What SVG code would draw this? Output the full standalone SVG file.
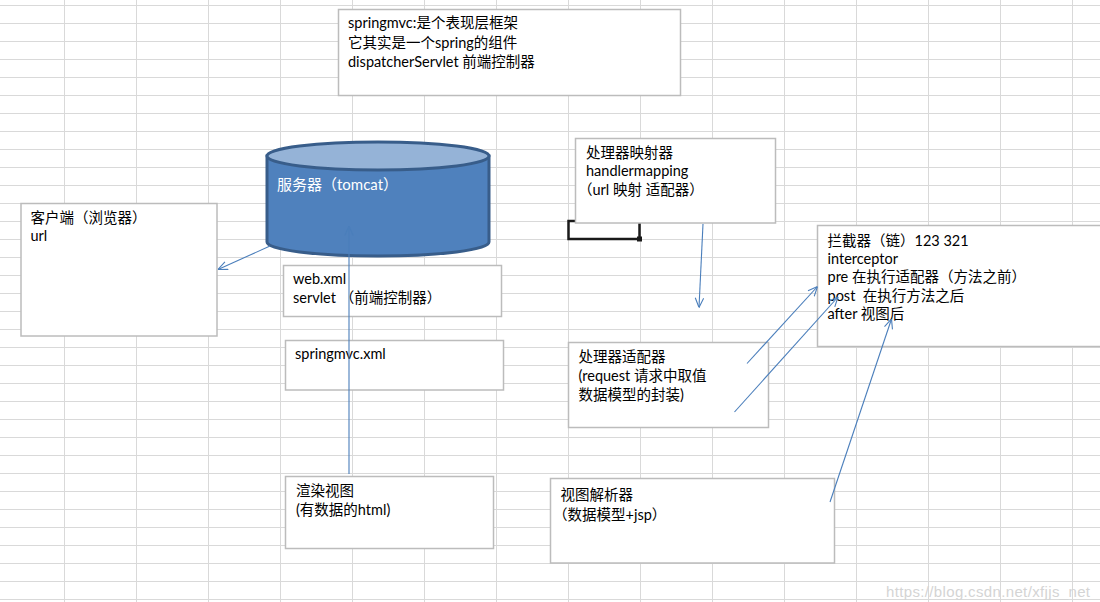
<svg xmlns="http://www.w3.org/2000/svg" width="1100" height="602" viewBox="0 0 1100 602">
<style>
.box{fill:#fff;stroke:#bcbcbc;stroke-width:1.5}
.t{font-family:Lato,"Noto Sans CJK SC",sans-serif;font-size:14.5px;fill:#000;white-space:pre}
.conn{stroke:#4a7ebb;stroke-width:1.1;fill:none}
</style>
<defs>
<pattern id="grid" patternUnits="userSpaceOnUse" x="64" y="5" width="72" height="18">
<path d="M0,0.5H72M0.5,0V18" stroke="#d9d9d9" stroke-width="1" fill="none"/>
</pattern>
<marker id="open" viewBox="0 0 10 10" refX="10" refY="5" markerWidth="10" markerHeight="10" markerUnits="userSpaceOnUse" orient="auto">
<path d="M0.5,0.8L10,5L0.5,9.2" fill="none" stroke="#4a7ebb" stroke-width="1.1"/>
</marker>
</defs>
<rect width="1100" height="602" fill="#fff"/>
<rect width="1100" height="602" fill="url(#grid)"/>
<g id="selection">
<rect x="568.5" y="221" width="71" height="18" fill="none" stroke="#1a1a1a" stroke-width="2.5"/>
<rect x="637" y="236.5" width="5" height="5" fill="#1a1a1a"/>
</g>
<g id="note-top">
<rect class="box" x="338.5" y="9.5" width="342" height="86"/>
<text class="t" x="348" y="28">springmvc:是个表现层框架</text>
<text class="t" x="348" y="47.5">它其实是一个spring的组件</text>
<text class="t" x="348" y="66.5">dispatcherServlet 前端控制器</text>
</g>
<g id="server">
<path d="M267,156V242A111,14 0 0 0 489,242V156Z" fill="#4f81bd" stroke="#385d8a" stroke-width="3"/>
<ellipse cx="378" cy="156" rx="111" ry="14" fill="#95b3d7" stroke="#385d8a" stroke-width="3"/>
<text class="t" x="277" y="190" style="fill:#fff;font-size:15px">服务器（tomcat）</text>
</g>
<g id="client">
<rect class="box" x="21" y="203.5" width="196" height="132.5"/>
<text class="t" x="30.5" y="222.5">客户端（浏览器）</text>
<text class="t" x="30.5" y="241">url</text>
</g>
<g id="webxml">
<rect class="box" x="283.5" y="265.5" width="218" height="51"/>
<text class="t" x="293" y="284">web.xml</text>
<text class="t" x="293" y="303">servlet （前端控制器）</text>
</g>
<g id="springmvcxml">
<rect class="box" x="285.5" y="340.5" width="218" height="49.5"/>
<text class="t" x="295" y="359">springmvc.xml</text>
</g>
<g id="render">
<rect class="box" x="285.5" y="476.5" width="208" height="72"/>
<text class="t" x="296" y="495.5">渲染视图</text>
<text class="t" x="296" y="514.5">(有数据的html)</text>
</g>
<g id="handlermapping">
<rect class="box" x="575.5" y="138.5" width="200" height="84.5"/>
<text class="t" x="586" y="157.5">处理器映射器</text>
<text class="t" x="586" y="176">handlermapping</text>
<text class="t" x="578" y="194.5">（url 映射 适配器）</text>
</g>
<g id="adapter">
<rect class="box" x="568.5" y="342.5" width="200" height="85"/>
<text class="t" x="578.5" y="361.5">处理器适配器</text>
<text class="t" x="578.5" y="380.5">(request 请求中取值</text>
<text class="t" x="578.5" y="399.5">数据模型的封装)</text>
</g>
<g id="interceptor">
<rect class="box" x="817.5" y="225.5" width="290" height="121"/>
<text class="t" x="827.5" y="245.5">拦截器（链）123 321</text>
<text class="t" x="827.5" y="263.5">interceptor</text>
<text class="t" x="827.5" y="282">pre 在执行适配器（方法之前）</text>
<text class="t" x="827.5" y="300.5">post  在执行方法之后</text>
<text class="t" x="827.5" y="319">after 视图后</text>
</g>
<g id="viewresolver">
<rect class="box" x="550.5" y="478.5" width="284" height="84.5"/>
<text class="t" x="560.5" y="499.5">视图解析器</text>
<text class="t" x="553" y="519.5">（数据模型+jsp）</text>
</g>
<g id="connectors">
<line class="conn" x1="270" y1="246" x2="218" y2="269.5" marker-end="url(#open)"/>
<line class="conn" x1="349" y1="474" x2="349" y2="226" marker-end="url(#open)"/>
<line class="conn" x1="703" y1="224" x2="699" y2="307.5" marker-end="url(#open)"/>
<line class="conn" x1="747" y1="363.5" x2="817.5" y2="286.5" marker-end="url(#open)"/>
<line class="conn" x1="734.5" y1="412" x2="838" y2="297" marker-end="url(#open)"/>
<line class="conn" x1="830" y1="502" x2="891.5" y2="319" marker-end="url(#open)"/>
</g>
<text x="886" y="597" font-family="Liberation Sans, Arial, sans-serif" font-size="15" fill="#d4d4d4" textLength="204">https://blog.csdn.net/xfjjs_net</text>
</svg>
